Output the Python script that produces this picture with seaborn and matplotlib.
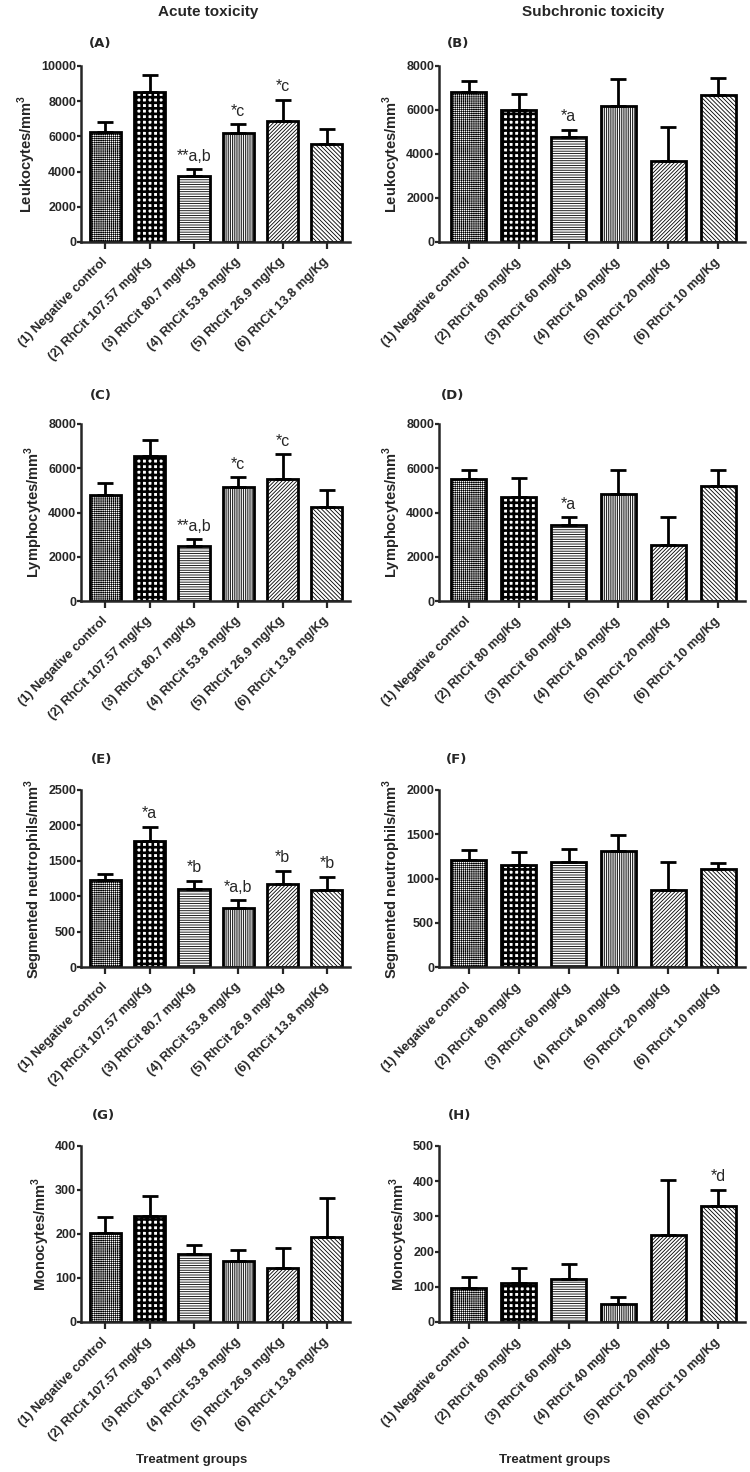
import seaborn as sns
import pandas as pd
import numpy as np
import matplotlib
matplotlib.use("Agg")
import matplotlib.pyplot as plt

acute_groups = ["(1) Negative control", "(2) RhCit 107.57 mg/Kg", "(3) RhCit 80.7 mg/Kg",
                "(4) RhCit 53.8 mg/Kg", "(5) RhCit 26.9 mg/Kg", "(6) RhCit 13.8 mg/Kg"]
subchronic_groups = ["(1) Negative control", "(2) RhCit 80 mg/Kg", "(3) RhCit 60 mg/Kg",
                     "(4) RhCit 40 mg/Kg", "(5) RhCit 20 mg/Kg", "(6) RhCit 10 mg/Kg"]

leuko_acute = [6250, 8550, 3750, 6200, 6850, 5570]
leuko_acute_err = [570, 940, 390, 490, 1220, 830]
leuko_acute_sig = ["", "", "**a,b", "*c", "*c", ""]

leuko_sub = [6810, 6020, 4770, 6200, 3680, 6660]
leuko_sub_err = [510, 730, 320, 1190, 1560, 810]
leuko_sub_sig = ["", "", "*a", "", "", ""]

lymph_acute = [4780, 6540, 2500, 5170, 5520, 4230]
lymph_acute_err = [560, 740, 280, 420, 1110, 800]
lymph_acute_sig = ["", "", "**a,b", "*c", "*c", ""]

lymph_sub = [5510, 4710, 3430, 4830, 2510, 5180]
lymph_sub_err = [410, 870, 360, 1080, 1300, 740]
lymph_sub_sig = ["", "", "*a", "", "", ""]

neut_acute = [1225, 1785, 1108, 830, 1169, 1094]
neut_acute_err = [95, 193, 112, 113, 188, 178]
neut_acute_sig = ["", "*a", "*b", "*a,b", "*b", "*b"]

neut_sub = [1205, 1155, 1189, 1307, 871, 1102]
neut_sub_err = [113, 140, 141, 189, 315, 76]
neut_sub_sig = ["", "", "", "", "", ""]

mono_acute = [203, 241, 155, 139, 122, 194]
mono_acute_err = [35, 46, 20, 24, 46, 87]
mono_acute_sig = ["", "", "", "", "", ""]

mono_sub = [96, 112, 123, 52, 246, 329]
mono_sub_err = [31, 41, 42, 18, 156, 46]
mono_sub_sig = ["", "", "", "", "", "*d"]

hatches = ["+" * 8, "+++", "-" * 7, "|" * 9, "/" * 9, "\\" * 8]
hatch_lw = [0.45, 1.9, 0.6, 0.6, 0.6, 0.6]

sns.set_style("ticks")
plt.rcParams["font.family"] = ["Liberation Sans", "DejaVu Sans"]
plt.rcParams["font.weight"] = "bold"
plt.rcParams["mathtext.fontset"] = "custom"
plt.rcParams["mathtext.rm"] = "Liberation Sans:bold"
plt.rcParams["mathtext.bf"] = "Liberation Sans:bold"
plt.rcParams["hatch.linewidth"] = 0.6

fig = plt.figure(figsize=(7.5, 14.72), dpi=100)

W, H = 750, 1472


def panel(rect_px, groups, vals, errs, sigs, ylabel, ymax, ystep, letter, letter_xy, xlim):
    l, t, r, b = rect_px
    ax = fig.add_axes([l / W, 1 - b / H, (r - l) / W, (b - t) / H])
    df = pd.DataFrame({"group": groups, "value": vals})
    sns.barplot(data=df, x="group", y="value", ax=ax, color="white", edgecolor="black",
                linewidth=2, width=0.7, errorbar=None, saturation=1)
    for i, p in enumerate(ax.patches):
        p.set_hatch(hatches[i])
        try:
            p.set_hatch_linewidth(hatch_lw[i])
        except AttributeError:
            pass
    x = np.arange(len(vals))
    ax.errorbar(x, vals, yerr=[np.zeros(len(vals)), errs], fmt="none", ecolor="black",
                elinewidth=2, capsize=6, capthick=2, zorder=1)
    for i, s in enumerate(sigs):
        if s:
            ax.annotate(s, (i, vals[i] + errs[i]), xytext=(0, 4), textcoords="offset points",
                        ha="center", va="bottom", fontsize=11.5, fontweight="normal")
    ax.set_ylim(0, ymax)
    ax.set_xlim(*xlim)
    ax.set_yticks(np.arange(0, ymax + 1, ystep))
    ax.set_ylabel(ylabel, fontsize=10.5, fontweight="bold", labelpad=2)
    ax.set_xlabel("")
    ax.set_xticks(x)
    ax.set_xticklabels(groups, rotation=45, ha="right", va="center", rotation_mode="anchor",
                       fontsize=9.3, fontweight="bold")
    ax.tick_params(axis="x", length=5, width=1.6, pad=8)
    ax.tick_params(axis="y", length=3, width=1.6, labelsize=9, pad=0.5)
    for s in ["left", "bottom"]:
        ax.spines[s].set_linewidth(1.8)
    sns.despine(ax=ax)
    fig.text(letter_xy[0] / W, 1 - letter_xy[1] / H, letter, ha="center", va="center",
             fontsize=9.5, fontweight="bold", family="DejaVu Sans")
    return ax


rows = [(66, 242), (424, 601), (790, 967), (1146, 1322)]
col1 = (81, 350)
col2 = (439, 745)
xlim1 = (-0.55, 5.52)
xlim2 = (-0.6, 5.54)

mm = "/mm$^{3}$"
panel((col1[0], rows[0][0], col1[1], rows[0][1]), acute_groups, leuko_acute, leuko_acute_err,
      leuko_acute_sig, "Leukocytes" + mm, 10000, 2000, "(A)", (100, 43), xlim1)
panel((col2[0], rows[0][0], col2[1], rows[0][1]), subchronic_groups, leuko_sub, leuko_sub_err,
      leuko_sub_sig, "Leukocytes" + mm, 8000, 2000, "(B)", (458, 43), xlim2)
panel((col1[0], rows[1][0], col1[1], rows[1][1]), acute_groups, lymph_acute, lymph_acute_err,
      lymph_acute_sig, "Lymphocytes" + mm, 8000, 2000, "(C)", (101, 395), xlim1)
panel((col2[0], rows[1][0], col2[1], rows[1][1]), subchronic_groups, lymph_sub, lymph_sub_err,
      lymph_sub_sig, "Lymphocytes" + mm, 8000, 2000, "(D)", (453, 395), xlim2)
panel((col1[0], rows[2][0], col1[1], rows[2][1]), acute_groups, neut_acute, neut_acute_err,
      neut_acute_sig, "Segmented neutrophils" + mm, 2500, 500, "(E)", (102, 760), xlim1)
panel((col2[0], rows[2][0], col2[1], rows[2][1]), subchronic_groups, neut_sub, neut_sub_err,
      neut_sub_sig, "Segmented neutrophils" + mm, 2000, 500, "(F)", (457, 760), xlim2)
panel((col1[0], rows[3][0], col1[1], rows[3][1]), acute_groups, mono_acute, mono_acute_err,
      mono_acute_sig, "Monocytes" + mm, 400, 100, "(G)", (103, 1115), xlim1)
panel((col2[0], rows[3][0], col2[1], rows[3][1]), subchronic_groups, mono_sub, mono_sub_err,
      mono_sub_sig, "Monocytes" + mm, 500, 100, "(H)", (460, 1115), xlim2)

fig.text(208 / W, 1 - 12 / H, "Acute toxicity", ha="center", va="center", fontsize=11, fontweight="bold")
fig.text(593 / W, 1 - 12 / H, "Subchronic toxicity", ha="center", va="center", fontsize=11, fontweight="bold")
fig.text(192 / W, 1 - 1460 / H, "Treatment groups", ha="center", va="center", fontsize=9.5, fontweight="bold")
fig.text(555 / W, 1 - 1460 / H, "Treatment groups", ha="center", va="center", fontsize=9.5, fontweight="bold")

plt.savefig("out.png", dpi=100)
plt.close()
